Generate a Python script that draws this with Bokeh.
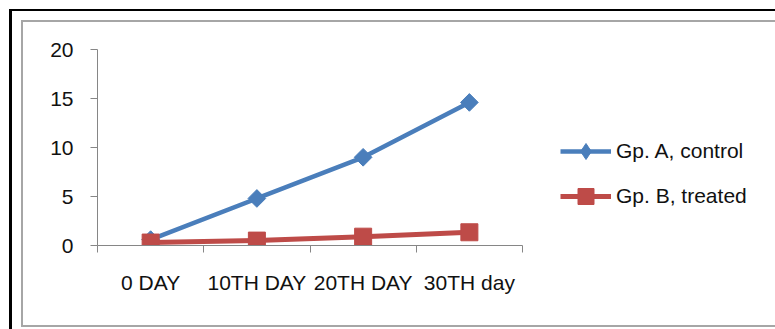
from bokeh.plotting import figure
from bokeh.models import (Range1d, FixedTicker, Legend, LegendItem, ColumnDataSource,
                          InlineStyleSheet, CDSView, IndexFilter)
from bokeh.embed import file_html
from bokeh.resources import INLINE
import math

categories = ["0 DAY", "10TH DAY", "20TH DAY", "30TH day"]
group_a = [0.6, 4.8, 9.0, 14.6]
group_b = [0.3, 0.5, 0.9, 1.35]
y_ticks = [0, 5, 10, 15, 20]
series_names = ["Gp. A, control", "Gp. B, treated"]

FONT = "Liberation Sans"
BLUE = "#4A7EBB"
RED = "#BE4B48"
AXIS = "#868686"

W, H = 775, 329
LEFT, BOTTOM = 97, 84          # axis panels
AX_RIGHT_PX, AX_TOP_PX = 522, 49  # where the axes end on the canvas
YMAX = 20
n = len(categories)

xpos = [i + 0.5 for i in range(n)]

# frame spans the whole canvas right of / above the axes; axes are bounded
px_per_x = (AX_RIGHT_PX - LEFT) / n
px_per_y = (H - BOTTOM - AX_TOP_PX) / YMAX
x_end = (W - LEFT) / px_per_x
y_end = (H - BOTTOM) / px_per_y

css = InlineStyleSheet(css="""
:host { position: relative; overflow: hidden; }
:host::before { content: ""; position: absolute; left: 9px; top: 9px;
  width: 900px; height: 500px; box-sizing: border-box;
  border-left: 3px solid #000; border-top: 2px solid #000;
  pointer-events: none; z-index: 10; }
:host::after { content: ""; position: absolute; left: 21px; top: 20px;
  width: 900px; height: 307px; box-sizing: border-box;
  border-left: 2px solid #A6A6A6; border-top: 2px solid #A6A6A6;
  border-bottom: 2px solid #A6A6A6;
  pointer-events: none; z-index: 10; }
""")

p = figure(width=W, height=H, output_backend="svg", toolbar_location=None,
           x_range=Range1d(0, x_end), y_range=Range1d(0, y_end),
           min_border_left=LEFT, min_border_right=0, min_border_top=0,
           min_border_bottom=BOTTOM, stylesheets=[css])
p.background_fill_color = "white"
p.border_fill_color = "white"
p.outline_line_color = None
p.grid.visible = False

src_a = ColumnDataSource(dict(x=xpos, y=group_a))
src_b = ColumnDataSource(dict(x=xpos, y=group_b))

la = p.line("x", "y", source=src_a, line_color=BLUE, line_width=4.5)
# legend-style diamond drawn on the first point only (covered by the plot marker)
first = CDSView(filter=IndexFilter(indices=[0]))
lgma = p.scatter("x", "y", source=src_a, view=first, marker="diamond", size=15,
                 fill_color=BLUE, line_color=BLUE)
ma = p.scatter("x", "y", source=src_a, marker="square", angle=math.pi / 4, size=12.5,
               fill_color=BLUE, line_color=BLUE)
lb = p.line("x", "y", source=src_b, line_color=RED, line_width=5)
mb = p.scatter("x", "y", source=src_b, marker="square", size=17,
               fill_color=RED, line_color=RED)

# axes
xa = p.xaxis[0]
xa.bounds = (0, n)
xa.ticker = FixedTicker(ticks=xpos, minor_ticks=list(range(n + 1)))
xa.major_label_overrides = {x: c for x, c in zip(xpos, categories)}
xa.major_tick_out = 0
xa.major_tick_in = 0
xa.minor_tick_out = 7
xa.minor_tick_in = 0
xa.minor_tick_line_color = AXIS
xa.axis_line_color = AXIS
xa.major_label_text_font = FONT
xa.major_label_text_font_size = "21px"
xa.major_label_text_color = "#111111"
xa.major_label_standoff = 18

ya = p.yaxis[0]
ya.bounds = (0, YMAX)
ya.ticker = FixedTicker(ticks=y_ticks)
ya.minor_tick_line_color = None
ya.major_tick_out = 7
ya.major_tick_in = 0
ya.major_tick_line_color = AXIS
ya.axis_line_color = AXIS
ya.major_label_text_font = FONT
ya.major_label_text_font_size = "21px"
ya.major_label_text_color = "#111111"
ya.major_label_standoff = 17

legend = Legend(items=[LegendItem(label=series_names[0], renderers=[la, lgma]),
                       LegendItem(label=series_names[1], renderers=[lb, mb])],
                location=(463, 29))
legend.glyph_width = 51
legend.glyph_height = 40
legend.spacing = 5
legend.padding = 0
legend.margin = 0
legend.label_standoff = 5
legend.label_text_font = FONT
legend.label_text_font_size = "21px"
legend.label_text_color = "#111111"
legend.border_line_color = None
legend.background_fill_alpha = 0
p.add_layout(legend, "center")

open("out.html", "w").write(file_html(p, INLINE))
